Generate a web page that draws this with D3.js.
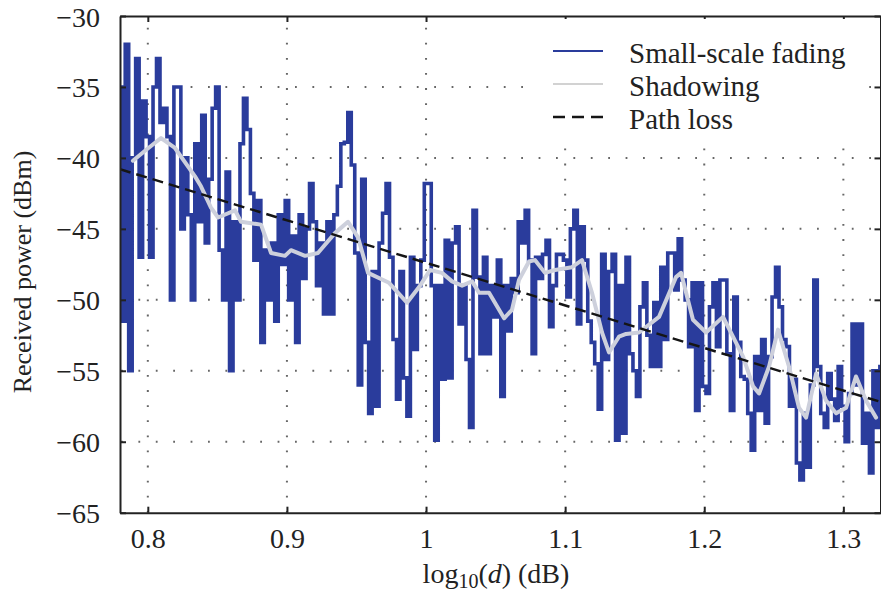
<!DOCTYPE html>
<html><head><meta charset="utf-8">
<script src="https://cdn.jsdelivr.net/npm/d3@7"></script>
<style>body{margin:0;background:#fff}svg{display:block}</style>
</head><body>
<svg id="c" width="881" height="592"></svg>
<script>
// ---------- data ----------
const xTicks = [0.8, 0.9, 1.0, 1.1, 1.2, 1.3];
const xTickLabels = ["0.8", "0.9", "1", "1.1", "1.2", "1.3"];
const yTicks = [-65, -60, -55, -50, -45, -40, -35, -30];
const yTickLabels = ["\u221265", "\u221260", "\u221255", "\u221250", "\u221245", "\u221240", "\u221235", "\u221230"];
const seriesNames = ["Small-scale fading", "Shadowing", "Path loss"];

// small-scale fading: samples every 0.0025 in log10(d), starting at 0.78
const fadingX0 = 0.78, fadingDx = 0.0025;
const fadingY = [
-35.0,-51.5,-32.0,-55.0,-40.0,-33.0,-47.0,-36.0,-38.5,-47.0,
-35.0,-33.0,-37.5,-36.5,-38.5,-50.0,-35.0,-35.0,-45.0,-40.0,
-44.0,-50.0,-39.0,-44.5,-37.0,-46.0,-41.5,-36.5,-35.0,-46.5,
-50.0,-41.0,-55.0,-44.5,-50.0,-39.0,-35.8,-38.0,-42.5,-47.2,
-43.0,-53.0,-46.5,-50.0,-46.0,-51.5,-44.0,-47.5,-43.0,-50.0,
-45.5,-53.0,-44.0,-48.5,-45.0,-41.8,-44.5,-49.0,-46.0,-51.0,
-44.5,-51.0,-44.0,-42.0,-39.0,-38.9,-36.8,-40.5,-46.7,-56.0,
-41.5,-53.0,-58.0,-48.0,-57.5,-46.0,-43.9,-41.8,-47.0,-52.8,
-57.0,-48.0,-55.5,-58.2,-47.0,-53.5,-49.0,-47.2,-41.8,-41.8,
-49.0,-59.9,-49.0,-55.6,-45.8,-55.5,-46.0,-44.85,-51.7,-49.0,
-54.2,-59.0,-43.7,-48.4,-53.8,-47.0,-53.8,-49.0,-51.2,-47.2,
-56.8,-49.0,-52.2,-48.5,-49.5,-44.5,-46.0,-43.7,-47.2,-53.8,
-47.0,-48.5,-46.8,-45.8,-51.9,-49.0,-46.8,-46.8,-47.2,-49.8,
-45.0,-43.7,-51.7,-44.85,-47.2,-51.5,-53.0,-54.5,-57.7,-46.8,
-54.2,-48.0,-46.8,-59.9,-49.0,-59.4,-47.0,-53.8,-55.0,-56.8,
-50.5,-48.8,-52.5,-54.7,-50.2,-54.7,-47.7,-52.8,-46.7,-46.7,
-49.3,-45.7,-48.6,-50.0,-53.3,-48.8,-57.8,-48.8,-56.1,-56.6,
-50.5,-48.8,-53.3,-48.6,-48.6,-53.8,-57.8,-49.8,-53.0,-55.4,
-55.6,-58.0,-60.6,-54.0,-57.8,-52.8,-58.7,-54.0,-49.8,-47.7,
-50.5,-52.8,-53.3,-57.5,-55.6,-61.5,-62.7,-58.0,-61.8,-56.0,
-48.6,-54.7,-58.0,-59.0,-55.2,-57.0,-58.5,-54.7,-57.5,-60.0,
-56.6,-51.7,-56.0,-51.7,-60.1,-58.0,-62.2,-55.0,-59.0,-54.7
];

// shadowing
const shadowX = [0.7893,0.798,0.8095,0.8195,0.8339,0.8382,0.8454,0.8505,0.8627,0.867,
0.8814,0.8886,0.8986,0.9029,0.913,0.9223,0.9345,0.9439,0.9511,0.9583,
0.9734,0.9863,0.995,1.0029,1.0115,1.0187,1.0259,1.0331,1.0381,1.0453,
1.0561,1.0618,1.0668,1.074,1.0783,1.0855,1.0927,1.1049,1.1121,1.1193,
1.1265,1.1315,1.1387,1.1438,1.1531,1.1675,1.1797,1.1833,1.1919,1.2013,
1.2135,1.2279,1.2351,1.2394,1.2466,1.253,1.2609,1.2681,1.2732,1.2804,
1.2876,1.2948,1.302,1.3091,1.3163,1.3235];
const shadowY = [-40.2,-39.5,-38.6,-39.3,-41.3,-42.0,-43.5,-44.2,-43.7,-44.5,
-44.7,-46.7,-46.9,-46.5,-46.9,-46.7,-45.3,-44.5,-45.6,-48.1,
-48.8,-50.2,-49.1,-47.9,-48.1,-48.7,-49.0,-48.7,-49.5,-49.5,
-51.3,-50.7,-48.6,-47.3,-47.2,-48.1,-47.9,-47.7,-47.2,-49.5,
-52.3,-53.7,-52.6,-52.4,-52.3,-51.2,-48.4,-48.1,-51.4,-52.3,
-51.2,-54.0,-56.1,-56.6,-54.7,-52.1,-54.7,-57.6,-58.3,-55.2,
-57.1,-58.0,-57.6,-55.4,-57.1,-58.3];

// path loss (straight line)
const pathLossX = [0.78, 1.327];
const pathLossY = [-40.8, -57.2];

// ---------- drawing ----------
const svg = d3.select("#c");
const L = 120, T = 16, R = 880.5, B = 512.7;
const FONT = "'Liberation Serif', 'DejaVu Serif', serif";
const x = d3.scaleLinear().domain([0.78, 1.3267]).range([L, R]);
const y = d3.scaleLinear().domain([-65, -30]).range([B, T]);

svg.append("defs").append("clipPath").attr("id", "clip")
  .append("rect").attr("x", L).attr("y", T).attr("width", R - L).attr("height", B - T);

// grid
const grid = svg.append("g");
grid.selectAll(".vg").data(xTicks).join("line")
  .attr("x1", d => x(d)).attr("x2", d => x(d)).attr("y1", B).attr("y2", T)
  .attr("stroke", "#666").attr("stroke-width", 2).attr("stroke-dasharray", "1.8,13.3");
grid.selectAll(".hg").data(yTicks.slice(1, -1)).join("line")
  .attr("x1", L).attr("x2", R).attr("y1", d => y(d)).attr("y2", d => y(d))
  .attr("stroke", "#666").attr("stroke-width", 2).attr("stroke-dasharray", "1.8,15.6")
  .attr("stroke-dashoffset", -1);

const plot = svg.append("g").attr("clip-path", "url(#clip)");
const fadingData = fadingY.map((v, i) => [fadingX0 + i * fadingDx, v]);
plot.append("path").datum(fadingData)
  .attr("fill", "none").attr("stroke", "#2a3c9c").attr("stroke-width", 3.6)
  .attr("stroke-linejoin", "miter")
  .attr("d", d3.line().x(d => x(d[0])).y(d => y(d[1])).curve(d3.curveStep));

const shadowData = shadowX.map((v, i) => [v, shadowY[i]]);
plot.append("path").datum(shadowData)
  .attr("fill", "none").attr("stroke", "#cdd0dc").attr("stroke-width", 4)
  .attr("stroke-linejoin", "round").attr("stroke-linecap", "round")
  .attr("d", d3.line().x(d => x(d[0])).y(d => y(d[1])));

const plData = pathLossX.map((v, i) => [v, pathLossY[i]]);
plot.append("path").datum(plData)
  .attr("fill", "none").attr("stroke", "#151515").attr("stroke-width", 2.4)
  .attr("stroke-dasharray", "11,6")
  .attr("d", d3.line().x(d => x(d[0])).y(d => y(d[1])));

// axes
function styleAxis(g) {
  g.select(".domain").attr("stroke", "#222").attr("stroke-width", 2);
  g.selectAll(".tick line").attr("stroke", "#222").attr("stroke-width", 2);
  g.selectAll("text").attr("font-family", FONT).attr("font-size", 28).attr("fill", "#222");
}
const gb = svg.append("g").attr("transform", `translate(0,${B})`)
  .call(d3.axisBottom(x).tickValues(xTicks).tickFormat((d, i) => xTickLabels[i])
    .tickSizeInner(-6).tickSizeOuter(0));
styleAxis(gb);
gb.selectAll("text").attr("y", 35).attr("dy", 0);

const gl = svg.append("g").attr("transform", `translate(${L},0)`)
  .call(d3.axisLeft(y).tickValues(yTicks).tickFormat((d, i) => yTickLabels[i])
    .tickSizeInner(-6).tickSizeOuter(0));
styleAxis(gl);
gl.selectAll("text").attr("x", -20).attr("dy", 0).attr("y", 10);

const gt = svg.append("g").attr("transform", `translate(0,${T})`)
  .call(d3.axisTop(x).tickValues(xTicks).tickFormat("").tickSizeInner(-6).tickSizeOuter(0));
styleAxis(gt);
const gr = svg.append("g").attr("transform", `translate(${R},0)`)
  .call(d3.axisRight(y).tickValues(yTicks).tickFormat("").tickSizeInner(-6).tickSizeOuter(0));
styleAxis(gr);

// axis titles
const xt = svg.append("text").attr("x", 496).attr("y", 583).attr("text-anchor", "middle")
  .attr("font-family", FONT).attr("font-size", 28).attr("fill", "#222");
xt.append("tspan").text("log");
xt.append("tspan").attr("font-size", 20).attr("dy", 5).text("10");
xt.append("tspan").attr("dy", -5).text("(");
xt.append("tspan").attr("font-style", "italic").text("d");
xt.append("tspan").text(") (dB)");

svg.append("text").attr("transform", "translate(31,272) rotate(-90)")
  .attr("text-anchor", "middle").attr("font-family", FONT).attr("font-size", 26)
  .attr("fill", "#222").text("Received power (dBm)");

// legend
const lg = svg.append("g");
lg.append("rect").attr("x", 535).attr("y", 19).attr("width", 327).attr("height", 126).attr("fill", "#fff");
const legendStyles = [
  {stroke: "#2a3c9c", w: 2.2, dash: null},
  {stroke: "#d2d2d2", w: 2.2, dash: null},
  {stroke: "#151515", w: 2.4, dash: "12,7"}
];
const rowY = [51, 84, 117];
seriesNames.forEach((name, i) => {
  const s = legendStyles[i];
  const ln = lg.append("line").attr("x1", 553).attr("x2", 603).attr("y1", rowY[i]).attr("y2", rowY[i])
    .attr("stroke", s.stroke).attr("stroke-width", s.w);
  if (s.dash) ln.attr("stroke-dasharray", s.dash);
  lg.append("text").attr("x", 629).attr("y", rowY[i] + 12)
    .attr("font-family", FONT).attr("font-size", 29).attr("fill", "#222").text(name);
});
</script>
</body></html>
